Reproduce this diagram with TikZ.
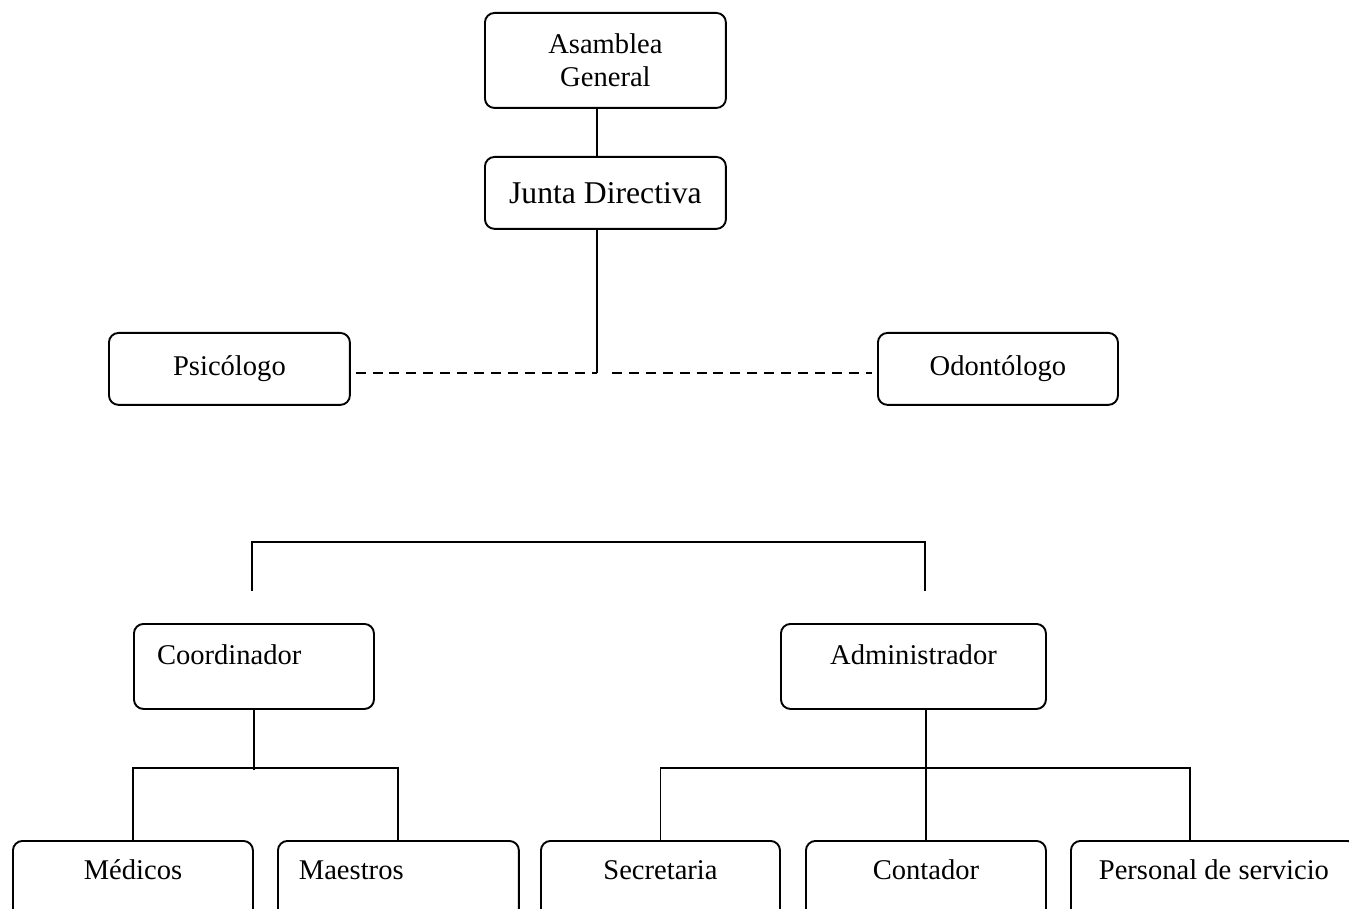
\documentclass[tikz,border=0pt]{standalone}
\usepackage{fontspec}
\setmainfont{Liberation Serif}
\usetikzlibrary{calc}
\tikzset{
    unit/.style={draw, line width=0.8pt, rounded corners=4pt, inner sep=0pt,
        anchor=north west, font=\fontsize{12}{14}\selectfont, align=center},
    topunit/.style={unit, text height=17.2pt, text depth=18.5pt},
    leafunit/.style={unit, text height=16pt, text depth=18pt},
    link/.style={line width=0.8pt},
    dashlink/.style={line width=0.8pt, dash pattern=on 4.2pt off 2.9pt}
}

\begin{document}
\begin{tikzpicture}[x=0.42pt, y=-0.42pt]
\clip (0,0) rectangle (1349,909);

\node [unit, minimum width=101.2pt, minimum height=39.9pt] (asam) at (484,12) {Asamblea\\General};
\node [unit, minimum width=101.2pt, minimum height=30.2pt, font=\fontsize{13.3}{15}\selectfont] (junta) at (484,156) {Junta Directiva};
\node [unit, minimum width=101.2pt, minimum height=30.2pt] (psic) at (108,332) {Psicólogo};
\node [unit, minimum width=100.8pt, minimum height=30.2pt] (odon) at (877,332) {Odontólogo};

\coordinate (trunk) at (597,373);
\draw [link] (asam.south -| trunk) -- (junta.north -| trunk);
\draw [link] (junta.south -| trunk) -- (trunk);
\draw [dashlink, shorten <=2pt] (psic.east |- trunk) -- (trunk);
\draw [dashlink, shorten >=2pt] ([xshift=6.3pt]trunk) -- (odon.west |- trunk);

% loose bracket above the two heads
\coordinate (bl) at (252,591);
\coordinate (br) at (925,591);
\draw [link] (bl) -- ++(0,-49) -| (br);

\node [topunit, inner xsep=9.7pt, text width=81.4pt, align=left] (coord) at (133,623) {Coordinador};
\node [topunit, minimum width=111.3pt] (admin) at (780,623) {Administrador};

% bottom row
\node [leafunit, minimum width=100.8pt] (med) at (12,840) {Médicos};
\node [leafunit, inner xsep=8.8pt, text width=83.6pt, align=left] (mae) at (277,840) {Maestros};
\node [leafunit, minimum width=100.4pt] (sec) at (540,840) {Secretaria};
\node [leafunit, minimum width=100.8pt] (cont) at (805,840) {Contador};
\node [leafunit, minimum width=120.1pt] (per) at (1070,840) {Personal de servicio};
\coordinate (perin) at (1190,840);

\draw [link] (coord.south) -- ++(0,60);
\draw [link] (med.north) -- ++(0,-72) -| (mae.north);
\draw [link] (admin.south -| cont.north) -- (cont.north);
\draw [link] (sec.north) -- ++(0,-72) -| (perin);

\end{tikzpicture}
\end{document}
